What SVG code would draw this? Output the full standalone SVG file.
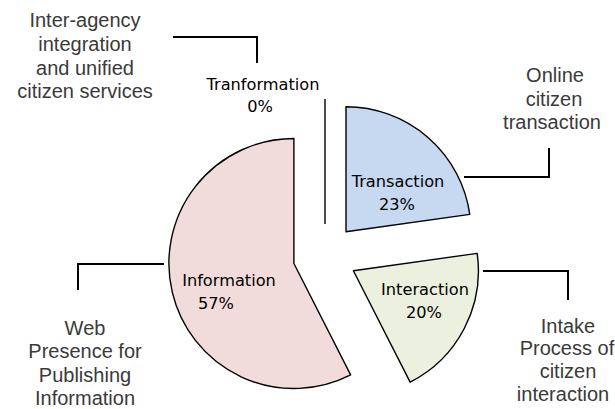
<svg xmlns="http://www.w3.org/2000/svg" width="615" height="409" viewBox="0 0 615 409">
<style>
.slice{stroke:#000;stroke-width:1.4;stroke-linejoin:round}
.lbl{font-family:"DejaVu Sans",sans-serif;font-size:16.2px;fill:#000;text-anchor:middle}
.out{font-family:"Liberation Sans",Arial,sans-serif;font-size:20px;fill:#3a3a3a;text-anchor:middle}
.conn{fill:none;stroke:#000;stroke-width:2}
</style>
<rect width="615" height="409" fill="#fff"/>
<g id="connectors">
<polyline class="conn" points="173,37 257,37 257,63"/>
<polyline class="conn" points="464,177 549,177 549,148"/>
<polyline class="conn" points="483,271 568,271 568,300"/>
<polyline class="conn" points="164,264 78,264 78,290"/>
</g>
<g id="information">
<path class="slice" fill="#f2dcdb" d="M293.9,263.5 L350.65,374.88 A125,125 0 1 1 293.9,138.5 Z"/>
<text class="lbl" x="229" y="286">Information</text>
<text class="lbl" x="216" y="309">57%</text>
</g>
<g id="transaction">
<path class="slice" fill="#c6d9f0" d="M346,231.8 L346,106.8 A125,125 0 0 1 469.78,214.4 Z"/>
<text class="lbl" x="398" y="187">Transaction</text>
<text class="lbl" x="397" y="210">23%</text>
</g>
<g id="interaction">
<path class="slice" fill="#ebf1de" d="M353.4,270.8 L477.18,253.4 A125,125 0 0 1 410.15,382.18 Z"/>
<text class="lbl" x="425" y="295">Interaction</text>
<text class="lbl" x="424" y="318">20%</text>
</g>
<g id="transformation">
<line class="slice" x1="325" y1="224" x2="325" y2="99"/>
<text class="lbl" x="263" y="90">Tranformation</text>
<text class="lbl" x="260" y="112">0%</text>
</g>
<g id="label-transformation">
<text class="out" x="85" y="27">Inter-agency</text>
<text class="out" x="85" y="51">integration</text>
<text class="out" x="85" y="75">and unified</text>
<text class="out" x="85" y="98">citizen services</text>
</g>
<g id="label-transaction">
<text class="out" x="555" y="82">Online</text>
<text class="out" x="554" y="106">citizen</text>
<text class="out" x="552" y="129">transaction</text>
</g>
<g id="label-interaction">
<text class="out" x="568" y="333">Intake</text>
<text class="out" x="567" y="355">Process of</text>
<text class="out" x="568" y="378">citizen</text>
<text class="out" x="563" y="401">interaction</text>
</g>
<g id="label-information">
<text class="out" x="85" y="335">Web</text>
<text class="out" x="85" y="358">Presence for</text>
<text class="out" x="85" y="382">Publishing</text>
<text class="out" x="85" y="405">Information</text>
</g>
</svg>
